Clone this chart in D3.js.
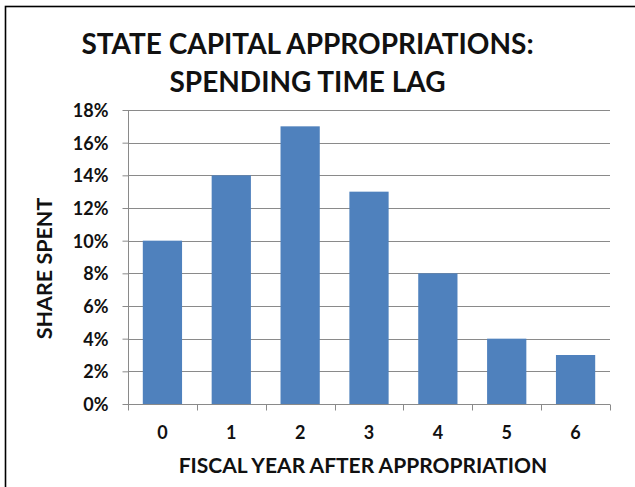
<!DOCTYPE html>
<html>
<head>
<meta charset="utf-8">
<script src="https://cdn.jsdelivr.net/npm/d3@7"></script>
<style>
  html, body { margin: 0; padding: 0; background: #fff; }
  svg { display: block; }
  text { font-family: Lato, "Open Sans", sans-serif; font-weight: bold; fill: #111; }
</style>
</head>
<body>
<svg id="chart" width="635" height="487"></svg>
<script>
// Fiscal years after appropriation and the share of funds spent in each
const years = ["0", "1", "2", "3", "4", "5", "6"];
const shareSpent = [10, 14, 17, 13, 8, 4, 3];
const yTicks = [0, 2, 4, 6, 8, 10, 12, 14, 16, 18];
const titleLines = ["STATE CAPITAL APPROPRIATIONS:", "SPENDING TIME LAG"];
const xTitle = "FISCAL YEAR AFTER APPROPRIATION";
const yTitle = "SHARE SPENT";

const svg = d3.select("#chart");
const W = 635, H = 487;
const plot = { left: 128, right: 610, top: 110, bottom: 404 };

// Outer frame
svg.append("rect")
  .attr("x", 5.5).attr("y", 6.5)
  .attr("width", W).attr("height", H)
  .attr("fill", "#fff")
  .attr("stroke", "#000").attr("stroke-width", 1.6);

const x = d3.scaleBand().domain(years)
  .range([plot.left, plot.right]).paddingInner(0.43).paddingOuter(0.215);
const xGrid = d3.scaleBand().domain(years).range([plot.left, plot.right]);
const y = d3.scaleLinear().domain([0, 18]).range([plot.bottom, plot.top]);

// Horizontal gridlines
svg.append("g")
  .selectAll("line").data(yTicks.filter(d => d > 0)).join("line")
  .attr("x1", plot.left).attr("x2", plot.right)
  .attr("y1", d => Math.round(y(d)) + 0.5).attr("y2", d => Math.round(y(d)) + 0.5)
  .attr("stroke", "#8a8a8a").attr("stroke-width", 1);

// Bars
svg.append("g")
  .selectAll("rect").data(shareSpent).join("rect")
  .attr("x", (d, i) => x(years[i]))
  .attr("width", x.bandwidth())
  .attr("y", d => y(d))
  .attr("height", d => y(0) - y(d))
  .attr("fill", "#4f81bd");

// Y axis
const yAxis = svg.append("g")
  .attr("transform", `translate(${plot.left + 0.5},0)`)
  .call(d3.axisLeft(y).tickValues(yTicks).tickSize(6).tickPadding(14)
    .tickFormat(d => d + "%"));
yAxis.select(".domain").attr("stroke", "#8a8a8a").attr("d", `M0,${plot.top}V${plot.bottom}`);
yAxis.selectAll(".tick line").attr("stroke", "#8a8a8a");
yAxis.selectAll(".tick text")
  .attr("font-family", "Lato, 'Open Sans', sans-serif")
  .attr("font-weight", "bold").attr("font-size", 18).attr("fill", "#111")
  .attr("dy", "0.36em");

// X axis: tick marks at category boundaries
const xAxisG = svg.append("g").attr("transform", `translate(0,${plot.bottom + 0.5})`);
xAxisG.append("line")
  .attr("x1", plot.left).attr("x2", plot.right)
  .attr("stroke", "#8a8a8a");
const bounds = years.map(d => xGrid(d)).concat([plot.right]);
xAxisG.selectAll("line.tk").data(bounds).join("line").attr("class", "tk")
  .attr("x1", d => Math.round(d) + 0.5).attr("x2", d => Math.round(d) + 0.5)
  .attr("y1", 0).attr("y2", 6)
  .attr("stroke", "#8a8a8a");
xAxisG.selectAll("text").data(years).join("text")
  .attr("x", d => xGrid(d) + xGrid.bandwidth() / 2)
  .attr("y", 34)
  .attr("text-anchor", "middle")
  .attr("font-size", 18)
  .text(d => d);

// Title
svg.append("g").selectAll("text").data(titleLines).join("text")
  .attr("x", 307.5)
  .attr("y", (d, i) => 53.5 + i * 38.5)
  .attr("text-anchor", "middle")
  .attr("font-size", 28)
  .text(d => d);

// Axis titles
svg.append("text")
  .attr("x", 363).attr("y", 473)
  .attr("text-anchor", "middle")
  .attr("font-size", 21)
  .text(xTitle);

svg.append("text")
  .attr("transform", "translate(52,268.5) rotate(-90)")
  .attr("text-anchor", "middle")
  .attr("font-size", 21.5)
  .text(yTitle);
</script>
</body>
</html>
